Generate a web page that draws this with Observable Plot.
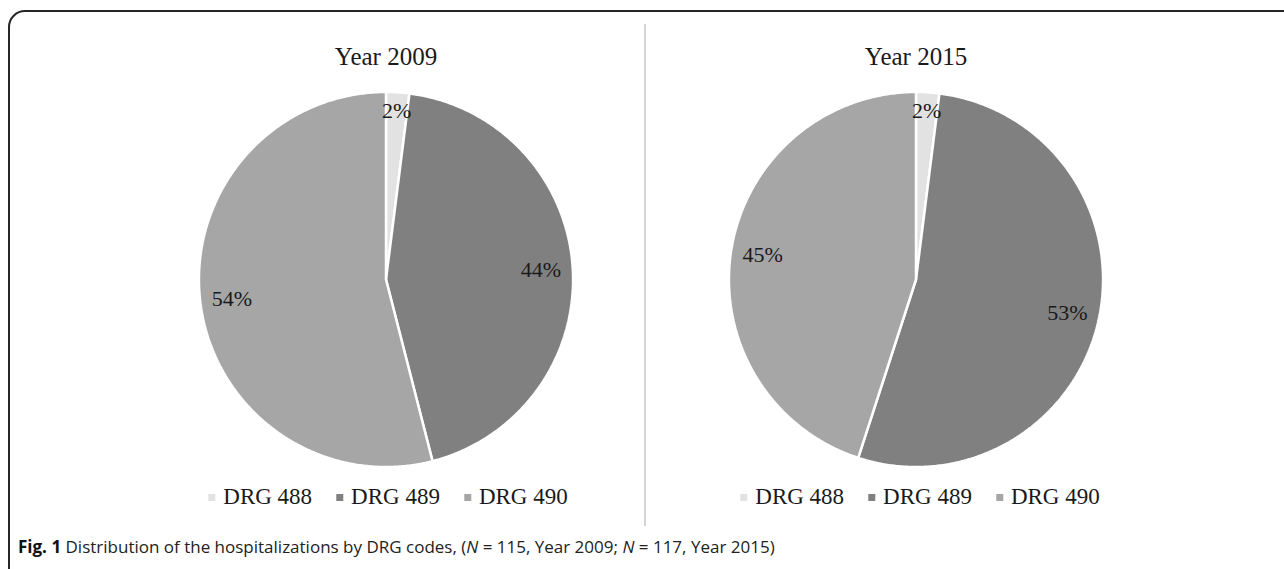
<!DOCTYPE html>
<html>
<head>
<meta charset="utf-8">
<script src="https://cdn.jsdelivr.net/npm/d3@7"></script>
<script src="https://cdn.jsdelivr.net/npm/@observablehq/plot@0.6"></script>
<style>
  html, body { margin: 0; padding: 0; background: #fff; }
  #page { position: relative; width: 1284px; height: 569px; overflow: hidden; background: #fff; }
  #frame { position: absolute; left: 8px; top: 10px; width: 1320px; height: 620px;
           border-top: 2px solid #262626; border-left: 2px solid #262626;
           border-top-left-radius: 17px; box-sizing: border-box; }
  #divider { position: absolute; left: 644px; top: 24px; width: 2px; height: 502px; background: #d4d4d4; }
  #chart { position: absolute; left: 0; top: 0; }
  .legend { position: absolute; top: 484px; display: flex; gap: 24px;
            font-family: "Liberation Serif", "Times New Roman", serif; font-size: 23px; color: #1a1a1a;
            transform: translateX(-50%); white-space: nowrap; }
  .item { display: flex; align-items: center; gap: 8px; }
  .sw { width: 7px; height: 7px; }
  #caption { position: absolute; left: 18px; top: 535px; font-family: "Open Sans", "Noto Sans", sans-serif;
             font-size: 17px; color: #222; white-space: nowrap; }
  #caption b { font-weight: 700; color: #111; }
</style>
</head>
<body>
<div id="page">
  <div id="frame"></div>
  <div id="divider"></div>
  <div id="chart"></div>
  <div class="legend" id="legend0" style="left:388px"></div>
  <div class="legend" id="legend1" style="left:920px"></div>
  <div id="caption"><b>Fig. 1</b> Distribution of the hospitalizations by DRG codes, (<i>N</i> = 115, Year 2009; <i>N</i> = 117, Year 2015)</div>
</div>
<script>
// ---- data ----
const years = ["Year 2009", "Year 2015"];
const groups = ["DRG 488", "DRG 489", "DRG 490"];
const pct2009 = [2, 44, 54];
const pct2015 = [2, 53, 45];
const colors = ["#e2e2e2", "#808080", "#a6a6a6"];

// ---- build slice polygons from the values ----
const series = [pct2009, pct2015];
const pie = d3.pie().sort(null).value(d => d);
const slices = [];
const labels = [];
years.forEach((year, yi) => {
  pie(series[yi]).forEach((a, gi) => {
    const group = groups[gi];
    const n = Math.max(2, Math.ceil((a.endAngle - a.startAngle) / (Math.PI / 360)));
    slices.push({year, group, x: 0, y: 0});
    for (let k = 0; k <= n; k++) {
      const t = a.startAngle + (a.endAngle - a.startAngle) * k / n;
      slices.push({year, group, x: Math.sin(t), y: Math.cos(t)});
    }
    slices.push({year, group, x: 0, y: 0});
    const mid = (a.startAngle + a.endAngle) / 2;
    const rl = a.value < 5 ? 0.9 : 0.83;
    labels.push({year, x: rl * Math.sin(mid), y: rl * Math.cos(mid), text: a.value + "%"});
  });
});

const serif = "Liberation Serif, Times New Roman, serif";
const chart = Plot.plot({
  width: 1284,
  height: 500,
  marginLeft: 175,
  marginRight: 158,
  marginTop: 69,
  marginBottom: 11,
  style: {background: "transparent", color: "#1a1a1a"},
  fx: {domain: years, paddingInner: 0.209, paddingOuter: 0, label: null},
  x: {domain: [-1.12, 1.12], axis: null},
  y: {domain: [-1.12, 1.12], axis: null},
  color: {domain: groups, range: colors},
  marks: [
    Plot.axisFx({anchor: "top", tickSize: 0, tickPadding: 5, fontSize: 25, fontFamily: serif, label: null}),
    Plot.line(slices, {fx: "year", x: "x", y: "y", z: "group", fill: "group",
                       stroke: "white", strokeWidth: 2.5, strokeLinejoin: "miter", curve: "linear"}),
    Plot.text(labels, {fx: "year", x: "x", y: "y", text: "text", fontSize: 22,
                       fontFamily: serif, fill: "#1a1a1a"})
  ]
});
document.getElementById("chart").appendChild(chart);

// ---- legends ----
[0, 1].forEach(i => {
  const el = document.getElementById("legend" + i);
  groups.forEach((g, gi) => {
    const item = document.createElement("div");
    item.className = "item";
    const sw = document.createElement("span");
    sw.className = "sw";
    sw.style.background = colors[gi];
    const tx = document.createElement("span");
    tx.textContent = g;
    item.appendChild(sw);
    item.appendChild(tx);
    el.appendChild(item);
  });
});
</script>
</body>
</html>
